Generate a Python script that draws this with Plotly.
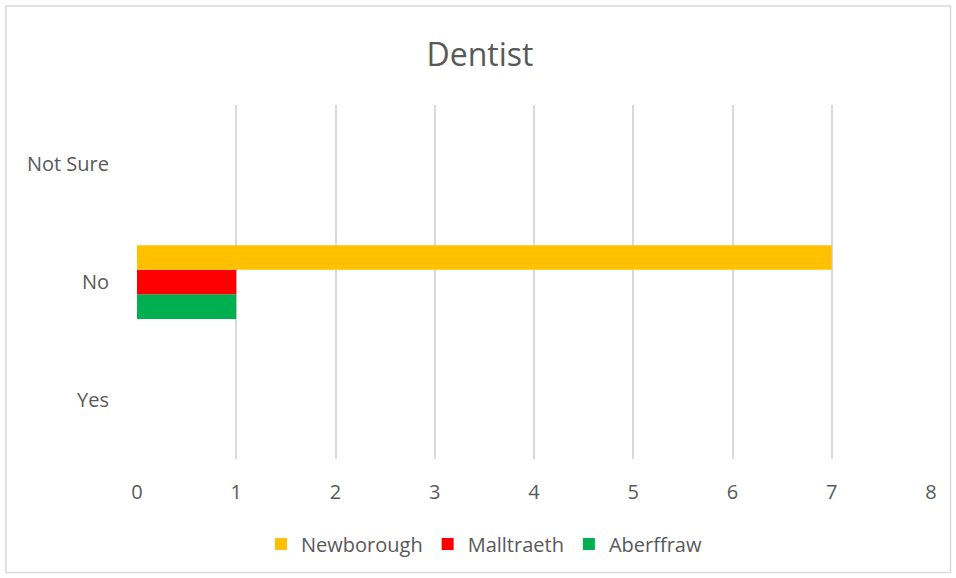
import plotly.graph_objects as go

categories = ["Yes", "No", "Not Sure"]
series_names = ["Newborough", "Malltraeth", "Aberffraw"]
newborough = [0, 7, 0]
malltraeth = [0, 1, 0]
aberffraw = [0, 1, 0]
colors = {"Newborough": "#FFC000", "Malltraeth": "#FF0000", "Aberffraw": "#00B050"}
x_ticks = [0, 1, 2, 3, 4, 5, 6, 7, 8]

values = {"Newborough": newborough, "Malltraeth": malltraeth, "Aberffraw": aberffraw}

fig = go.Figure()
for name in reversed(series_names):
    fig.add_trace(go.Bar(
        y=categories, x=values[name], name=name, orientation="h",
        marker=dict(color=colors[name], line=dict(width=0)),
    ))

W, H = 956, 578
L, R, T, B = 137, 25, 105, 119
pw, ph = W - L - R, H - T - B

def px_x(p):
    return (p - L) / pw

def px_y(p):
    return (H - B - p) / ph

font_family = "Open Sans, Lato, sans-serif"
fig.update_layout(
    width=W, height=H,
    margin=dict(l=L, r=R, t=T, b=B),
    paper_bgcolor="white", plot_bgcolor="white",
    barmode="group", bargap=0.375, bargroupgap=0,
    font=dict(family=font_family, color="#595959", size=20),
    title=dict(text="Dentist", x=px_x(480), xref="paper", xanchor="center",
               y=1 - 55 / H, yref="container", yanchor="middle",
               font=dict(size=32, color="#595959", family=font_family)),
    legend=dict(orientation="h", traceorder="reversed",
                x=px_x(484), xanchor="center", y=px_y(544), yanchor="middle",
                font=dict(size=20, color="#595959"), itemwidth=30,
                itemclick=False),
    xaxis=dict(range=[0, 8], tickvals=x_ticks, showgrid=True, gridcolor="#D9D9D9",
               gridwidth=1.5, zeroline=False, showline=False, ticks="",
               tickfont=dict(size=20, color="#595959"), ticklabelstandoff=19),
    yaxis=dict(categoryorder="array", categoryarray=categories, showgrid=False,
               zeroline=False, showline=False, ticks="",
               tickfont=dict(size=20, color="#595959"), ticklabelstandoff=27),
    showlegend=True,
)

fig.add_shape(type="rect", xref="paper", yref="paper",
              x0=px_x(6), x1=px_x(950.5), y0=px_y(572.5), y1=px_y(6),
              line=dict(color="#D9D9D9", width=1.5), fillcolor="rgba(0,0,0,0)", layer="below")

fig.write_html("out.html", config={"displayModeBar": False},
               post_script="document.body.style.margin='0';document.body.style.overflow='hidden';")
